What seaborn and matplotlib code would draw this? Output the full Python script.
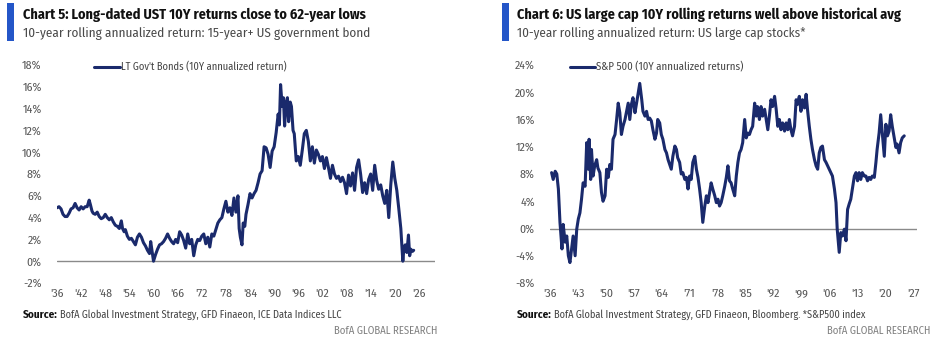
import matplotlib
matplotlib.use("Agg")
import matplotlib.pyplot as plt
import seaborn as sns
import pandas as pd

bond_years = [1936.0, 1936.5, 1937.0, 1937.5, 1938.0, 1938.5, 1939.0, 1939.5, 1940.0, 1940.5,
              1941.0, 1941.5, 1942.0, 1942.5, 1943.0, 1943.5, 1944.0, 1944.3, 1944.7, 1945.0,
              1945.5, 1946.0, 1946.5, 1947.0, 1947.5, 1948.0, 1948.5, 1949.0, 1949.5, 1950.0,
              1950.5, 1951.0, 1951.5, 1952.0, 1952.3, 1952.7, 1953.0, 1953.5, 1954.0, 1954.5,
              1955.0, 1955.5, 1956.0, 1956.5, 1957.0, 1957.5, 1958.0, 1958.5, 1959.0, 1959.3,
              1959.6, 1960.0, 1960.5, 1961.0, 1961.5, 1962.0, 1962.5, 1963.0, 1963.5, 1964.0,
              1964.5, 1965.0, 1965.5, 1966.0, 1966.5, 1967.0, 1967.5, 1968.0, 1968.5, 1969.0,
              1969.5, 1970.0, 1970.5, 1971.0, 1971.5, 1972.0, 1972.5, 1973.0, 1973.5, 1974.0,
              1974.5, 1975.0, 1975.5, 1976.0, 1976.5, 1977.0, 1977.5, 1978.0, 1978.5, 1979.0,
              1979.5, 1980.0, 1980.5, 1981.0, 1981.3, 1981.6, 1982.0, 1982.3, 1982.7, 1983.0,
              1983.5, 1984.0, 1984.5, 1985.0, 1985.5, 1986.0, 1986.5, 1987.0, 1987.5, 1988.0,
              1988.5, 1989.0, 1989.5, 1990.0, 1990.5, 1991.0, 1991.3, 1991.6, 1992.0, 1992.3,
              1992.6, 1993.0, 1993.3, 1993.6, 1994.0, 1994.3, 1994.7, 1995.0, 1995.5, 1996.0,
              1996.5, 1997.0, 1997.5, 1998.0, 1998.5, 1999.0, 1999.5, 2000.0, 2000.5, 2001.0,
              2001.5, 2002.0, 2002.5, 2003.0, 2003.5, 2004.0, 2004.5, 2005.0, 2005.5, 2006.0,
              2006.5, 2007.0, 2007.5, 2008.0, 2008.5, 2009.0, 2009.5, 2010.0, 2010.5, 2011.0,
              2011.5, 2012.0, 2012.5, 2013.0, 2013.5, 2014.0, 2014.5, 2015.0, 2015.5, 2016.0,
              2016.5, 2017.0, 2017.5, 2018.0, 2018.5, 2019.0, 2019.5, 2020.0, 2020.5, 2021.0,
              2021.5, 2022.0, 2022.3, 2022.6, 2023.0, 2023.4, 2023.7, 2024.0, 2024.4, 2024.7]
bond_returns = [4.9, 5.0, 4.8, 4.3, 4.1, 4.1, 4.4, 4.8, 4.9, 5.3,
                4.9, 4.7, 5.0, 4.8, 5.0, 5.0, 5.6, 5.2, 4.6, 4.4,
                4.3, 4.5, 4.1, 3.9, 4.0, 4.3, 4.0, 3.8, 4.0, 3.6,
                3.3, 3.2, 3.0, 3.7, 3.0, 2.7, 2.9, 2.3, 2.0, 2.1,
                1.8, 1.5, 2.2, 2.5, 2.2, 1.7, 1.4, 1.0, 0.7, 1.8,
                1.0, 0.0, 0.6, 1.1, 1.5, 1.6, 1.8, 2.1, 2.5, 2.1,
                1.8, 1.6, 2.0, 1.7, 2.7, 2.4, 1.9, 1.2, 2.5, 1.6,
                2.0, 0.5, 1.5, 2.0, 1.9, 2.3, 2.5, 1.6, 2.2, 1.3,
                2.5, 2.3, 2.9, 3.5, 3.8, 4.0, 4.8, 5.5, 4.5, 4.9,
                4.2, 5.8, 4.5, 6.0, 3.0, 2.2, 1.5, 3.5, 3.2, 4.3,
                5.2, 6.2, 5.8, 6.2, 6.5, 7.2, 8.0, 8.3, 10.5, 10.4,
                9.8, 8.6, 10.1, 10.5, 11.8, 13.5, 12.5, 16.2, 14.2, 15.0,
                12.4, 14.6, 15.0, 12.8, 14.6, 14.2, 12.0, 11.7, 9.2, 9.6,
                8.8, 10.2, 11.7, 12.0, 11.0, 9.2, 10.5, 9.0, 10.2, 9.8,
                9.2, 9.6, 8.5, 9.5, 8.6, 7.6, 8.8, 8.0, 7.6, 7.8,
                7.3, 7.7, 7.2, 6.2, 7.9, 6.9, 8.1, 6.5, 8.6, 9.3,
                8.0, 6.3, 7.2, 6.2, 7.5, 8.0, 6.5, 8.8, 7.4, 6.6,
                7.0, 6.0, 5.3, 6.5, 4.0, 7.0, 9.1, 7.6, 6.5, 4.8,
                3.0, 0.0, 1.3, 1.5, 0.8, 2.4, 0.5, 1.1, 0.9, 1.0]

spx_years = [1936.4, 1936.8, 1937.3, 1937.7, 1938.1, 1938.5, 1939.0, 1939.3, 1939.8, 1940.2,
             1940.6, 1941.0, 1941.4, 1941.8, 1942.3, 1942.7, 1943.1, 1943.5, 1943.9, 1944.3,
             1944.8, 1945.2, 1945.6, 1945.8, 1946.2, 1946.4, 1946.8, 1947.2, 1947.7, 1948.0,
             1948.5, 1948.9, 1949.3, 1949.8, 1950.2, 1950.6, 1951.0, 1951.4, 1951.8, 1952.3,
             1952.7, 1953.1, 1953.5, 1953.9, 1954.3, 1954.8, 1955.2, 1955.6, 1956.0, 1956.4,
             1956.8, 1957.3, 1957.7, 1958.1, 1958.5, 1959.0, 1959.3, 1959.8, 1960.2, 1960.6,
             1961.0, 1961.4, 1961.8, 1962.3, 1962.7, 1963.0, 1963.5, 1963.9, 1964.3, 1964.8,
             1965.2, 1965.6, 1966.0, 1966.4, 1966.8, 1967.3, 1967.7, 1968.0, 1968.5, 1968.9,
             1969.3, 1969.8, 1970.2, 1970.6, 1971.0, 1971.4, 1971.8, 1972.3, 1972.7, 1973.1,
             1973.5, 1973.9, 1974.3, 1974.8, 1975.2, 1975.6, 1976.0, 1976.4, 1976.8, 1977.3,
             1977.7, 1978.1, 1978.5, 1978.9, 1979.3, 1979.8, 1980.2, 1980.6, 1981.0, 1981.4,
             1981.8, 1982.3, 1982.7, 1983.1, 1983.5, 1983.9, 1984.3, 1984.8, 1985.2, 1985.6,
             1986.0, 1986.4, 1986.8, 1987.3, 1987.7, 1988.0, 1988.5, 1988.9, 1989.3, 1989.8,
             1990.2, 1990.6, 1991.0, 1991.4, 1991.8, 1992.3, 1992.7, 1993.1, 1993.5, 1993.9,
             1994.3, 1994.8, 1995.2, 1995.6, 1996.0, 1996.4, 1996.8, 1997.3, 1997.7, 1998.0,
             1998.5, 1998.9, 1999.3, 1999.8, 2000.2, 2000.6, 2001.0, 2001.4, 2001.8, 2002.3,
             2002.7, 2003.1, 2003.5, 2003.9, 2004.3, 2004.8, 2005.2, 2005.6, 2006.0, 2006.4,
             2006.8, 2007.3, 2007.7, 2008.0, 2008.5, 2008.9, 2009.3, 2009.8, 2010.2, 2010.6,
             2011.0, 2011.4, 2011.8, 2012.3, 2012.7, 2013.1, 2013.5, 2013.9, 2014.3, 2014.8,
             2015.2, 2015.6, 2016.0, 2016.4, 2016.8, 2017.3, 2017.7, 2018.0, 2018.5, 2018.9,
             2019.3, 2019.8, 2020.2, 2020.6, 2021.0, 2021.4, 2021.8, 2022.3, 2022.7, 2023.0,
             2023.5, 2023.9, 2024.3, 2024.8]
spx_returns = [8.2, 7.2, 8.4, 8.0, 5.8, 0.9, -3.0, 0.6, -2.0, -1.1,
               -4.0, -5.0, -3.0, -1.1, -4.0, -0.1, 1.4, 2.3, 4.3, 6.7,
               6.2, 12.6, 8.7, 13.1, 7.2, 11.6, 7.7, 9.2, 10.1, 8.9,
               8.2, 5.3, 4.0, 4.8, 8.7, 7.5, 9.4, 8.7, 13.1, 13.8,
               16.0, 18.4, 17.0, 13.8, 15.0, 16.0, 17.2, 18.4, 16.0, 18.2,
               19.2, 17.0, 18.4, 19.9, 21.3, 18.9, 17.2, 16.5, 17.2, 16.0,
               16.2, 15.8, 14.5, 13.1, 14.0, 16.0, 15.5, 13.8, 13.1, 11.6,
               11.1, 10.1, 9.4, 8.7, 10.6, 12.1, 11.6, 10.4, 9.7, 8.0,
               8.2, 7.2, 7.5, 5.8, 7.7, 7.2, 9.7, 10.6, 8.7, 7.5,
               5.8, 3.8, 0.9, 3.3, 4.8, 3.8, 5.3, 6.7, 5.8, 4.8,
               3.8, 4.3, 3.3, 3.8, 4.8, 6.2, 7.5, 9.2, 7.0, 6.7,
               5.8, 4.8, 7.7, 9.7, 11.1, 11.6, 12.6, 16.0, 13.3, 14.0,
               13.8, 14.5, 15.0, 18.4, 16.5, 17.9, 16.0, 17.9, 16.5, 17.5,
               16.0, 14.5, 16.5, 18.9, 17.9, 19.4, 17.5, 15.0, 16.0, 14.5,
               15.5, 14.3, 15.5, 14.5, 16.0, 14.5, 13.6, 15.0, 18.9, 18.2,
               19.4, 17.2, 18.9, 17.7, 19.7, 17.2, 15.0, 13.1, 11.6, 10.1,
               9.2, 8.7, 11.1, 11.9, 12.1, 10.1, 9.7, 9.2, 8.7, 8.2,
               7.7, 5.8, 3.8, -0.1, -3.5, -0.6, -1.1, -0.1, -1.8, 2.8,
               3.6, 4.3, 5.8, 7.7, 8.2, 7.0, 8.2, 7.2, 8.2, 7.7,
               7.7, 7.0, 7.5, 7.2, 7.7, 7.5, 9.7, 11.6, 14.0, 16.7,
               14.0, 10.6, 15.3, 13.6, 14.3, 16.7, 15.0, 13.3, 11.9, 12.4,
               11.1, 12.6, 13.3, 13.6]

bond_ticks = [1936, 1942, 1948, 1954, 1960, 1966, 1972, 1978, 1984, 1990, 1996, 2002, 2008, 2014, 2020, 2026]
bond_ticklabels = ["'36", "'42", "'48", "'54", "'60", "'66", "'72", "'78", "'84", "'90", "'96", "'02", "'08", "'14", "'20", "'26"]
bond_yticks = [-2, 0, 2, 4, 6, 8, 10, 12, 14, 16, 18]
spx_ticks = [1936, 1943, 1950, 1957, 1964, 1971, 1978, 1985, 1992, 1999, 2006, 2013, 2020, 2027]
spx_ticklabels = ["'36", "'43", "'50", "'57", "'64", "'71", "'78", "'85", "'92", "'99", "'06", "'13", "'20", "'27"]
spx_yticks = [-8, -4, 0, 4, 8, 12, 16, 20, 24]

titles = ["Chart 5: Long-dated UST 10Y returns close to 62-year lows",
          "Chart 6: US large cap 10Y rolling returns well above historical avg"]
subtitles = ["10-year rolling annualized return: 15-year+ US government bond",
             "10-year rolling annualized return: US large cap stocks*"]
legends = ["LT Gov't Bonds (10Y annualized return)", "S&P 500 (10Y annualized returns)"]
sources = ["BofA Global Investment Strategy, GFD Finaeon, ICE Data Indices LLC",
           "BofA Global Investment Strategy, GFD Finaeon, Bloomberg. *S&P500 index"]

sns.set_theme(style="white")
FONT = ["Fira Sans Condensed", "DejaVu Sans"]
plt.rcParams["font.family"] = FONT

W, H = 936, 338
fig = plt.figure(figsize=(W / 100, H / 100), dpi=100)
LINE = "#1a2a6c"
GRAY = "#555555"


def ax_rect(x0, y0, x1, y1):
    return [x0 / W, 1 - y1 / H, (x1 - x0) / W, (y1 - y0) / H]


def fit(txt, target_w):
    fig.canvas.draw()
    w = txt.get_window_extent().width
    txt.set_fontsize(txt.get_fontsize() * target_w / w)


panels = [
    dict(rect=ax_rect(57, 65, 435, 283), xlim=(1936, 2030), ylim=(-2, 18),
         years=bond_years, vals=bond_returns, xt=bond_ticks, xtl=bond_ticklabels, yt=bond_yticks,
         bar_x=7, text_x=23, leg_x0=94, leg_x1=120, src_right=437,
         tw=343, sw=347, lw=166, srcw=319),
    dict(rect=ax_rect(550, 65, 917, 283), xlim=(1936, 2028), ylim=(-8, 24),
         years=spx_years, vals=spx_returns, xt=spx_ticks, xtl=spx_ticklabels, yt=spx_yticks,
         bar_x=502, text_x=517, leg_x0=570, leg_x1=595, src_right=930,
         tw=383, sw=288, lw=148, srcw=349),
]

for i, p in enumerate(panels):
    ax = fig.add_axes(p["rect"])
    df = pd.DataFrame({"year": p["years"], "ret": p["vals"]})
    sns.lineplot(data=df, x="year", y="ret", ax=ax, color=LINE, linewidth=2.2,
                 estimator=None, sort=False)
    ax.axhline(0, color="#8a8a8a", linewidth=1.0, zorder=1)
    ax.set_xlim(*p["xlim"])
    ax.set_ylim(*p["ylim"])
    ax.set_xticks(p["xt"])
    ax.set_xticklabels(p["xtl"])
    ax.set_yticks(p["yt"])
    ax.set_yticklabels([f"{v}%" for v in p["yt"]])
    ax.tick_params(axis="both", length=0, labelsize=8.5, labelcolor=GRAY)
    ax.tick_params(axis="y", pad=11)
    ax.tick_params(axis="x", pad=4)
    ax.set_xlabel("")
    ax.set_ylabel("")
    for s in ax.spines.values():
        s.set_visible(False)
    ax.grid(False)
    ax.patch.set_alpha(0)

    # legend line sample + text
    ly = 1 - 67 / H
    fig.add_artist(plt.Line2D([p["leg_x0"] / W, p["leg_x1"] / W], [ly, ly],
                              color=LINE, linewidth=2.2, transform=fig.transFigure))
    lt = fig.text((p["leg_x1"] + 1) / W, ly, legends[i], fontsize=8.5, color="#444444",
                  va="center", ha="left")
    fit(lt, p["lw"])

    # blue title bar
    fig.add_artist(plt.Rectangle((p["bar_x"] / W, 1 - 41 / H), 7 / W, 38 / H,
                                 color="#2456c8", transform=fig.transFigure, lw=0))
    tt = fig.text(p["text_x"] / W, 1 - 15 / H, titles[i], fontsize=10, fontweight="bold",
                  color="#111111", va="center", ha="left")
    fit(tt, p["tw"])
    st = fig.text(p["text_x"] / W, 1 - 33 / H, subtitles[i], fontsize=10, fontweight="normal",
                  color="#4a4a4a", va="center", ha="left")
    fit(st, p["sw"])

    # source
    t = fig.text(p["text_x"] / W, 1 - 315 / H, "Source:", fontsize=8, fontweight="bold",
                 color="#111111", va="center", ha="left")
    fig.canvas.draw()
    bb = t.get_window_extent()
    s2 = fig.text((bb.x1 + 2) / W, 1 - 315 / H, sources[i], fontsize=8, color="#444444",
                  va="center", ha="left")
    fit(s2, p["srcw"] - bb.width - 2)
    b = fig.text(p["src_right"] / W, 1 - 331 / H, "BofA GLOBAL RESEARCH", fontsize=8,
                 color="#808080", va="center", ha="right")
    fit(b, 104)

fig.savefig("out.png", dpi=100)
